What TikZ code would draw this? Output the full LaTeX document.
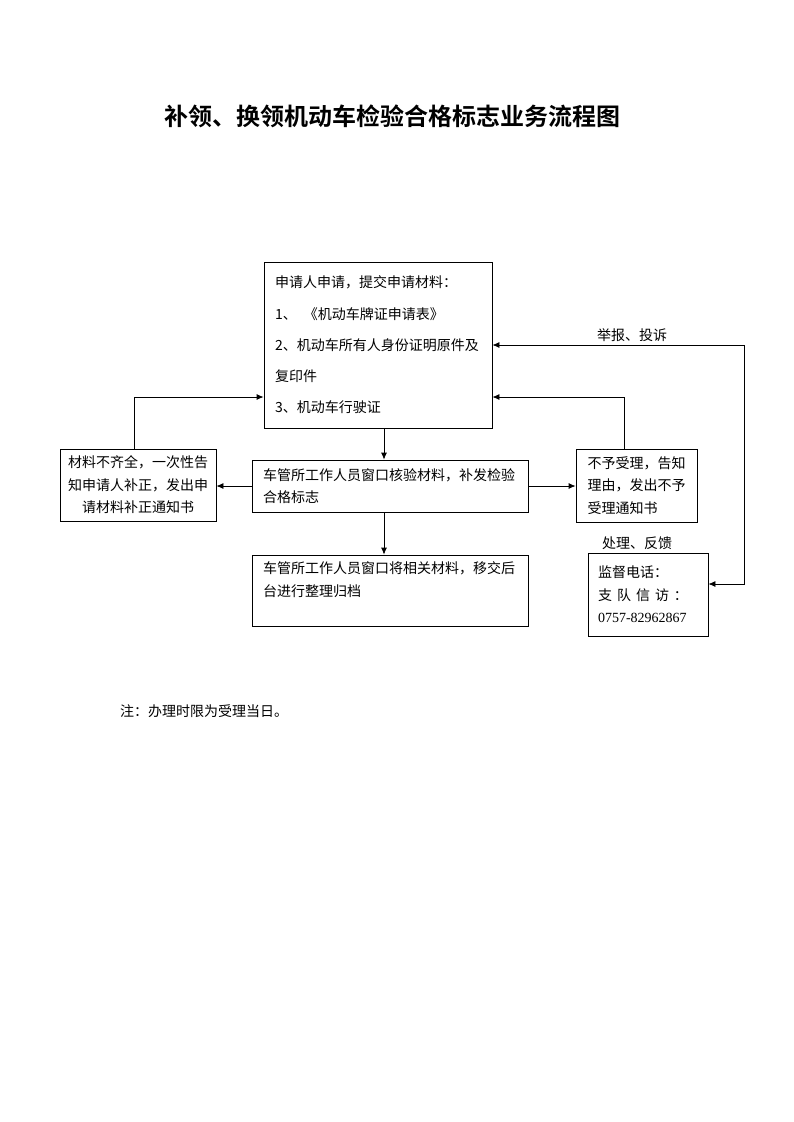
\documentclass[tikz,border=0pt]{standalone}
\usepackage{fontspec}
\setmainfont{Noto Sans CJK SC}
\newfontfamily\cjkbold{Noto Sans CJK SC Bold}
\newfontfamily\numfont{Liberation Serif}
\usetikzlibrary{arrows.meta}
\begin{document}
\begin{tikzpicture}[x=1pt,y=-1pt,
  box/.style={draw,line width=0.8pt,inner sep=0pt},
  arr/.style={line width=0.8pt,-{Latex[length=7pt,width=6pt]}},
  darr/.style={line width=0.8pt,{Latex[length=7pt,width=6pt]}-{Latex[length=7pt,width=6pt]}},
  txt/.style={font=\fontsize{14}{22.5}\selectfont}]
\useasboundingbox[fill=white] (0,0) rectangle (793,1122);
\node (title) at (392,116) {\fontsize{24}{28}\cjkbold 补领、换领机动车检验合格标志业务流程图};
\node[box,minimum width=228pt,minimum height=166pt,text width=206pt,align=left,font=\fontsize{14}{31.2}\selectfont] (main) at (378,345)
 {申请人申请，提交申请材料：\\1、\enspace《机动车牌证申请表》\\2、机动车所有人身份证明原件及\\复印件\\3、机动车行驶证};
\node[box,txt,minimum width=156pt,minimum height=72pt,text width=146pt,align=center] (left) at (138,485)
 {材料不齐全，一次性告\\知申请人补正，发出申\\请材料补正通知书};
\node[box,txt,minimum width=276pt,minimum height=52pt,text width=254pt,align=left] (mid) at (390,486)
 {车管所工作人员窗口核验材料，补发检验\\合格标志};
\node[box,txt,minimum width=276pt,minimum height=71pt,text width=254pt,align=left] (bot) at (390,590.5)
 {车管所工作人员窗口将相关材料，移交后\\台进行整理归档\\~};
\node[box,txt,minimum width=121pt,minimum height=73pt,text width=98pt,align=left] (right) at (636.5,485.5)
 {\makebox[98pt][s]{不\hfill 予\hfill 受\hfill 理\hfill ，\hfill 告\hfill 知}\\\makebox[98pt][s]{理\hfill 由\hfill ，\hfill 发\hfill 出\hfill 不\hfill 予}\\受理通知书};
\node[box,txt,minimum width=120pt,minimum height=83pt,text width=100pt,align=left] (super) at (648,594.5)
 {监督电话：\\\makebox[90pt][s]{支\hfill 队\hfill 信\hfill 访\hfill ：}\\{\numfont\fontsize{14}{22.5}\selectfont 0757-82962867}};
\node[txt] (lbl1) at (632,335) {举报、投诉};
\node[txt] (lbl2) at (637,543) {处理、反馈};
\node[txt,anchor=west,inner sep=0pt] (note) at (120,711) {注：办理时限为受理当日。};
\draw[arr] ([xshift=6pt]main.south) -- ([xshift=-6pt]mid.north);
\draw[arr] ([xshift=-6pt]mid.south) -- ([xshift=-6pt]bot.north);
\draw[arr] (mid.west) -- (mid.west -| left.east);
\draw[arr] (mid.east) -- (mid.east -| right.west);
\draw[arr] ([xshift=-4pt]left.north) |- ([yshift=-52pt]main.west);
\draw[arr] ([xshift=-12.5pt]right.north) |- ([yshift=-52pt]main.east);
\draw[darr] (main.east) -- ++(252,0) |- ([yshift=10.5pt]super.east);
\end{tikzpicture}
\end{document}
